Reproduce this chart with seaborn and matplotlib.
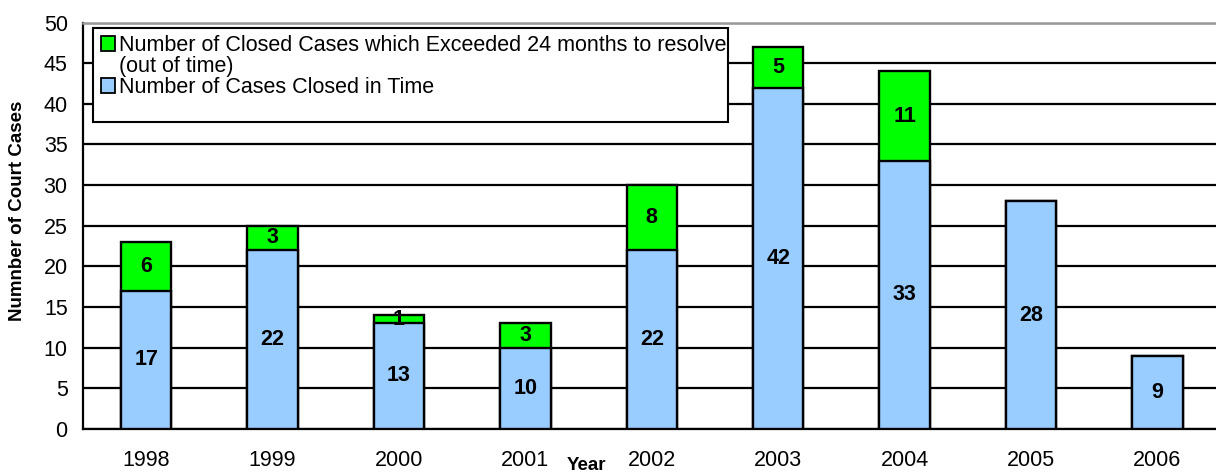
import numpy as np
import pandas as pd
import matplotlib
matplotlib.use('Agg')
import matplotlib.pyplot as plt
import seaborn as sns
from matplotlib.patches import Patch, Rectangle

sns.set_style('white')
plt.rcParams['font.family'] = ['Liberation Sans', 'DejaVu Sans']
plt.rcParams['text.color'] = 'black'
plt.rcParams['axes.labelcolor'] = 'black'
plt.rcParams['xtick.color'] = 'black'
plt.rcParams['ytick.color'] = 'black'

## data
years = ['1998', '1999', '2000', '2001', '2002', '2003', '2004', '2005', '2006']
closed_in_time = [17, 22, 13, 10, 22, 42, 33, 28, 9]
out_of_time = [6, 3, 1, 3, 8, 5, 11, 0, 0]

blue = '#99CCFF'
green = '#00FF00'

df = pd.DataFrame({'Year': years, 'InTime': closed_in_time, 'OutOfTime': out_of_time})
df['Total'] = df['InTime'] + df['OutOfTime']

fig = plt.figure(figsize=(12.16, 4.72), dpi=100)
ax = fig.add_axes([83 / 1216, 43.3 / 472, 9 * 126.4 / 1216, 406 / 472])

# stacked bars: totals in green, in-time part drawn over in blue
sns.barplot(data=df, x='Year', y='Total', color=green, saturation=1, width=0.4,
            edgecolor='black', linewidth=1.7, errorbar=None, ax=ax, zorder=3)
sns.barplot(data=df, x='Year', y='InTime', color=blue, saturation=1, width=0.4,
            edgecolor='black', linewidth=1.7, errorbar=None, ax=ax, zorder=3)

# value labels
for i, row in df.iterrows():
    ax.text(i, row['InTime'] / 2, str(row['InTime']), ha='center', va='center',
            fontsize=15.5, fontweight='bold', zorder=5)
    if row['OutOfTime'] > 0:
        ax.text(i, row['InTime'] + row['OutOfTime'] / 2, str(row['OutOfTime']),
                ha='center', va='center', fontsize=15.5, fontweight='bold', zorder=5)

ax.set_xlim(-0.5, 8.5)
ax.set_ylim(0, 50)
ax.set_yticks(np.arange(0, 51, 5))
ax.yaxis.grid(True, color='black', linewidth=1.6)
ax.set_axisbelow(True)

ax.set_xticks(np.arange(9) - 0.5, minor=True)
ax.tick_params(axis='x', which='major', length=0, pad=15, labelsize=15.5)
ax.tick_params(axis='x', which='minor', length=5, width=1.5, direction='out', color='black')
ax.tick_params(axis='y', length=5, width=1.5, direction='out', color='black', pad=6, labelsize=15.5)

for s in ['left', 'bottom']:
    ax.spines[s].set_color('black')
    ax.spines[s].set_linewidth(1.6)
ax.spines['top'].set_color('#999999')
ax.spines['top'].set_linewidth(1.8)
ax.spines['right'].set_visible(False)

ax.set_xlabel('Year', fontsize=13.5, fontweight='bold')
ax.xaxis.set_label_coords(0.443, -0.07)
ax.set_ylabel('Numnber of Court Cases', fontsize=13.5, fontweight='bold')
ax.yaxis.set_label_coords(-0.05, 0.536)

# legend box
ax.add_patch(Rectangle((0.0088, 0.755), 0.558, 0.232, transform=ax.transAxes,
                       facecolor='white', edgecolor='black', linewidth=1.5,
                       zorder=6, clip_on=False))
handles = [Patch(facecolor=green, edgecolor='black', linewidth=1.3),
           Patch(facecolor='none', edgecolor='none'),
           Patch(facecolor=blue, edgecolor='black', linewidth=1.3)]
labels = ['Number of Closed Cases which Exceeded 24 months to resolve',
          '(out of time)',
          'Number of Cases Closed in Time']
leg = ax.legend(handles, labels, loc='upper left', bbox_to_anchor=(0.012, 0.98),
                frameon=False, fontsize=15.5, handlelength=0.65, handleheight=0.65,
                handletextpad=0.2, labelspacing=0.0, borderpad=0.2, borderaxespad=0)
leg.set_zorder(7)

fig.savefig('out.png', dpi=100)
